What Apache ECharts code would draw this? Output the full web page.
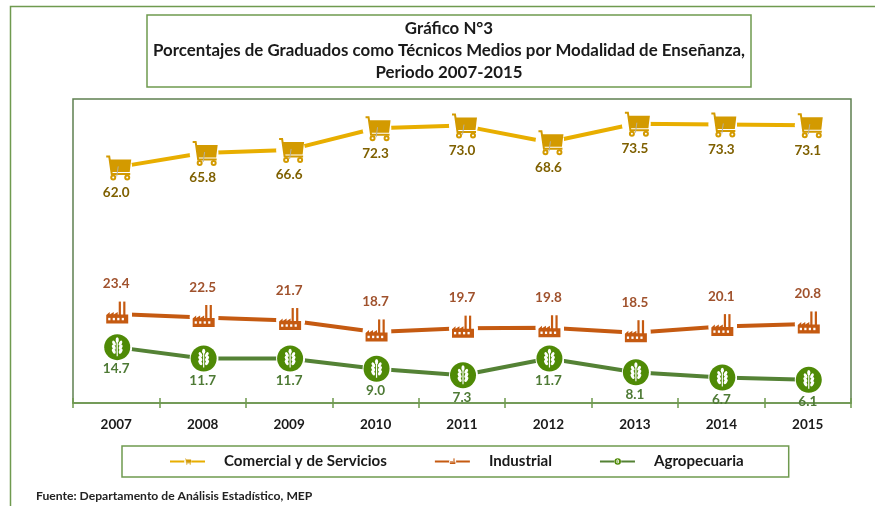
<!DOCTYPE html>
<html><head><meta charset="utf-8">
<style>html,body{margin:0;padding:0;background:#fff}#c{width:875px;height:506px}</style>
<script src="https://cdn.jsdelivr.net/npm/echarts@6/dist/echarts.min.js"></script>
</head><body><div id="c"></div>
<script>
const categories = ['2007','2008','2009','2010','2011','2012','2013','2014','2015'];
const comercial = [62.0,65.8,66.6,72.3,73.0,68.6,73.5,73.3,73.1];
const industrial = [23.4,22.5,21.7,18.7,19.7,19.8,18.5,20.1,20.8];
const agropecuaria = [14.7,11.7,11.7,9.0,7.3,11.7,8.1,6.7,6.1];

function svg(body){
  return 'image://data:image/svg+xml;charset=utf-8,' + encodeURIComponent(
    '<svg xmlns="http://www.w3.org/2000/svg" width="64" height="64" viewBox="0 0 32 32"><circle cx="17.5" cy="16" r="14.5" fill="#fff"/>'+body+'</svg>');
}
const cartIcon = svg('<g fill="none" stroke="#D39A00" stroke-width="2"><path d="M6 5H9L11.5 22.5H30"/><circle cx="13" cy="26" r="2"/><circle cx="27" cy="26" r="2"/></g><path fill="#D39A00" d="M9.5 8H31L29.5 20.5H11.5Z"/><path stroke="#B5B0A0" stroke-width="1" d="M18 15L16.5 25"/>');
const factoryIcon = svg('<g fill="#C55A11"><rect x="18.5" y="3.5" width="2.2" height="14"/><rect x="23" y="3.5" width="2.2" height="14"/><path d="M6 17L9.5 14V16.5L13.5 14V16.5L17.5 14V16.5H28V25.5H6Z"/></g><g fill="#fff"><rect x="8" y="19.8" width="2.2" height="2.4"/><rect x="12.5" y="19.8" width="2.2" height="2.4"/><rect x="17" y="19.8" width="2.2" height="2.4"/><rect x="21.5" y="19.8" width="2.2" height="2.4"/></g>');
const wheatIcon = svg('<circle cx="17" cy="16" r="13" fill="#4F8A06"/><g fill="#fff"><path d="M16.4 9h1.2v16h-1.2z"/><ellipse cx="17" cy="8.8" rx="1.6" ry="2.7"/><ellipse cx="13.8" cy="12" rx="1.5" ry="2.7" transform="rotate(-30 13.8 12)"/><ellipse cx="20.2" cy="12" rx="1.5" ry="2.7" transform="rotate(30 20.2 12)"/><ellipse cx="13.6" cy="16" rx="1.6" ry="2.9" transform="rotate(-30 13.6 16)"/><ellipse cx="20.4" cy="16" rx="1.6" ry="2.9" transform="rotate(30 20.4 16)"/><ellipse cx="13.6" cy="20" rx="1.6" ry="2.9" transform="rotate(-30 13.6 20)"/><ellipse cx="20.4" cy="20" rx="1.6" ry="2.9" transform="rotate(30 20.4 20)"/></g>');

const FONT = 'Lato';
const frame = '#6F9A4F';
const chart = echarts.init(document.getElementById('c'), null, {renderer:'canvas'});
function lineSeries(name, data, color, icon, labelColor, pos, dist){
  return {
    name, type:'line', data, symbol:icon, symbolSize:32, showAllSymbols:true,
    lineStyle:{color, width:4}, itemStyle:{color},
    emphasis:{disabled:true}, animation:false,
    label:{show:true, position:pos, distance:dist, color:labelColor,
      fontFamily:FONT, fontWeight:'bold', fontSize:13.5,
      formatter:p=>p.value.toFixed(1)}
  };
}
chart.setOption({
  animation:false,
  backgroundColor:'#fff',
  title:[
    {text:'Gráfico N°3\nPorcentajes de Graduados como Técnicos Medios por Modalidad de Enseñanza,\nPeriodo 2007-2015',
     left:443, top:15, textAlign:'center',
     padding:[3,6,3,6], borderColor:frame, borderWidth:1.5,
     textStyle:{fontFamily:FONT,fontWeight:'bold',fontSize:16.85,lineHeight:22,color:'#1a1a1a',align:'center'}},
    {text:'Fuente: Departamento de Análisis Estadístico, MEP', left:36, top:490, padding:0,
     textStyle:{fontFamily:FONT,fontWeight:'bold',fontSize:12.15,color:'#222'}}
  ],
  graphic:[{type:'polyline',silent:true,shape:{points:[[10.5,520],[10.5,6.5],[880,6.5]]},style:{fill:'none',stroke:frame,lineWidth:1.5}}],
  grid:{left:73,right:24,top:99,bottom:103,show:true,borderColor:'#5F8050',borderWidth:1.5,backgroundColor:'transparent'},
  legend:{
    left:122, top:446, padding:[8,45,8,47], itemGap:47, itemWidth:35, itemHeight:10,
    borderColor:frame, borderWidth:1.5, selectedMode:false,
    data:['Comercial y de Servicios','Industrial','Agropecuaria'],
    textStyle:{fontFamily:FONT,fontWeight:'bold',fontSize:15.1,color:'#1a1a1a',padding:[0,0,0,14]}
  },
  xAxis:[
    {type:'category',data:categories,boundaryGap:true,
     axisLine:{lineStyle:{color:frame,width:1.5}},
     axisTick:{show:true,alignWithLabel:false,length:5,lineStyle:{color:frame,width:1.5}},
     axisLabel:{fontFamily:FONT,fontWeight:'bold',fontSize:13.5,color:'#1a1a1a',margin:15,interval:0}},
    {type:'category',data:categories,position:'bottom',boundaryGap:true,
     axisLine:{show:false},axisLabel:{show:false},
     axisTick:{show:true,inside:true,length:5,lineStyle:{color:frame,width:1.5}}}
  ],
  yAxis:{type:'value',min:0,max:80,show:false},
  series:[
    lineSeries('Comercial y de Servicios',comercial,'#E8AE00',cartIcon,'#7F6000','bottom',2),
    lineSeries('Industrial',industrial,'#C55A11',factoryIcon,'#A0522D','top',7),
    lineSeries('Agropecuaria',agropecuaria,'#548235',wheatIcon,'#4E7A35','bottom',-1)
  ]
});
</script></body></html>
